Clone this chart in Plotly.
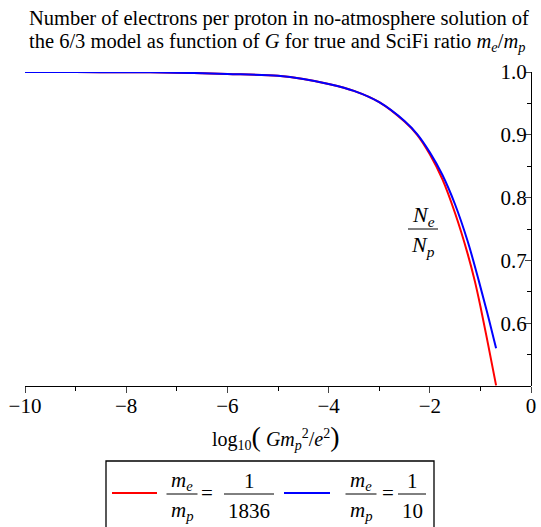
import plotly.graph_objects as go

# ---- data ----
x_red = [-10, -9, -8, -7, -6, -5, -4.5, -4, -3.5, -3, -2.5, -2.25, -2, -1.75, -1.5, -1.25, -1.11, -1.0, -0.85, -0.69]
y_red = [1.0, 0.9999, 0.9996, 0.999, 0.997, 0.994, 0.989, 0.981, 0.970, 0.952, 0.921, 0.900, 0.869, 0.829, 0.775, 0.710, 0.667, 0.627, 0.567, 0.501]
x_blue = [-10, -9, -8, -7, -6, -5, -4.5, -4, -3.5, -3, -2.5, -2.25, -2, -1.75, -1.5, -1.25, -1.03, -0.85, -0.69]
y_blue = [1.0, 0.9999, 0.9996, 0.999, 0.997, 0.994, 0.989, 0.981, 0.970, 0.952, 0.922, 0.901, 0.872, 0.836, 0.789, 0.730, 0.667, 0.612, 0.560]

x_major = [-10, -8, -6, -4, -2, 0]
x_minor = [-9, -7, -5, -3, -1]
y_major = [0.6, 0.7, 0.8, 0.9, 1.0]
y_major_text = ["0.6", "0.7", "0.8", "0.9", "1.0"]
y_minor = [0.5, 0.55, 0.65, 0.75, 0.85, 0.95]

# ---- layout geometry (pixels) ----
W, H = 541, 527
L, R, T, B = 25, 531, 72, 386
FONT = "Liberation Serif, Times New Roman, serif"

def px(xp):
    return (xp - L) / (R - L)

def py(yp):
    return (B - yp) / (B - T)

fig = go.Figure()
fig.add_trace(go.Scatter(x=x_red, y=y_red, mode="lines", line=dict(color="#ff0000", width=2, shape="spline", smoothing=1.0),
                         hoverinfo="skip", showlegend=False))
fig.add_trace(go.Scatter(x=x_blue, y=y_blue, mode="lines", line=dict(color="#0000ff", width=2, shape="spline", smoothing=1.0),
                         hoverinfo="skip", showlegend=False))

shapes = []
annotations = []

def frac(xc, ybar, num, den, w, size=21):
    shapes.append(dict(type="line", xref="paper", yref="paper", x0=px(xc - w / 2), x1=px(xc + w / 2),
                       y0=py(ybar), y1=py(ybar), line=dict(color="black", width=1)))
    annotations.append(dict(xref="paper", yref="paper", x=px(xc), y=py(ybar - 13), text=num, showarrow=False,
                            xanchor="center", yanchor="middle", font=dict(family=FONT, size=size, color="black")))
    annotations.append(dict(xref="paper", yref="paper", x=px(xc), y=py(ybar + 17), text=den, showarrow=False,
                            xanchor="center", yanchor="middle", font=dict(family=FONT, size=size, color="black")))

def txt(xc, yc, s, size=21, anchor="center"):
    annotations.append(dict(xref="paper", yref="paper", x=px(xc), y=py(yc), text=s, showarrow=False,
                            xanchor=anchor, yanchor="middle", font=dict(family=FONT, size=size, color="black")))

me = "<i>m<sub>e</sub></i>"
mp = "<i>m<sub>p</sub></i>"

# title (two lines)
txt(27, 18, "Number of electrons per proton in no-atmosphere solution of", size=20.5, anchor="left")
txt(27, 43, "the 6/3 model as function of <i>G</i> for true and SciFi ratio <i>m<sub>e</sub></i>/<i>m<sub>p</sub></i>", size=20.5, anchor="left")

# Ne/Np label
frac(423, 229, "<i>N<sub>e</sub></i>", "<i>N<sub>p</sub></i>", 30, size=22)

# legend box
shapes.append(dict(type="rect", xref="paper", yref="paper", x0=px(106), x1=px(434), y0=py(461), y1=py(540),
                   line=dict(color="black", width=1.3), fillcolor="rgba(0,0,0,0)"))
shapes.append(dict(type="line", xref="paper", yref="paper", x0=px(112), x1=px(157), y0=py(493), y1=py(493),
                   line=dict(color="#ff0000", width=2)))
shapes.append(dict(type="line", xref="paper", yref="paper", x0=px(284), x1=px(330), y0=py(493), y1=py(493),
                   line=dict(color="#0000ff", width=2)))
frac(182, 494, me, mp, 31)
txt(207, 493, "=")
frac(249, 494, "1", "1836", 50)
frac(361, 494, me, mp, 31)
txt(388, 493, "=")
frac(412, 494, "1", "10", 28)

# x-axis title
txt(276, 437, "log<sub>10</sub><span style='font-size:28px'>(</span> <i>Gm<sub>p</sub></i><sup>2</sup>/<i>e</i><sup>2</sup><span style='font-size:28px'>)</span>", size=20)

fig.update_layout(
    width=W, height=H,
    margin=dict(l=L, r=W - R, t=T, b=H - B, autoexpand=False),
    paper_bgcolor="white", plot_bgcolor="white",
    font=dict(family=FONT, size=21, color="black"),
    xaxis=dict(range=[-10, 0], tickmode="array", tickvals=x_major, ticks="outside", ticklen=6, tickwidth=1,
               showline=True, linecolor="black", linewidth=1, showgrid=False, zeroline=False,
               minor=dict(tickmode="array", tickvals=x_minor, ticks="outside", ticklen=4, tickcolor="black"),
               tickfont=dict(family=FONT, size=21), ticklabelstandoff=-5, fixedrange=True),
    yaxis=dict(range=[0.5, 1.0], tickmode="array", tickvals=y_major, ticktext=y_major_text, ticks="outside",
               ticklen=6, tickwidth=1, side="left", anchor="free", position=1.0,
               showline=True, linecolor="black", linewidth=1, showgrid=False, zeroline=False,
               minor=dict(tickmode="array", tickvals=y_minor, ticks="outside", ticklen=4, tickcolor="black"),
               tickfont=dict(family=FONT, size=21), ticklabelstandoff=-6, fixedrange=True),
    shapes=shapes, annotations=annotations,
)

fig.write_html("out.html", config={"displayModeBar": False},
               post_script="document.body.style.margin='0';document.body.style.overflow='hidden';")
